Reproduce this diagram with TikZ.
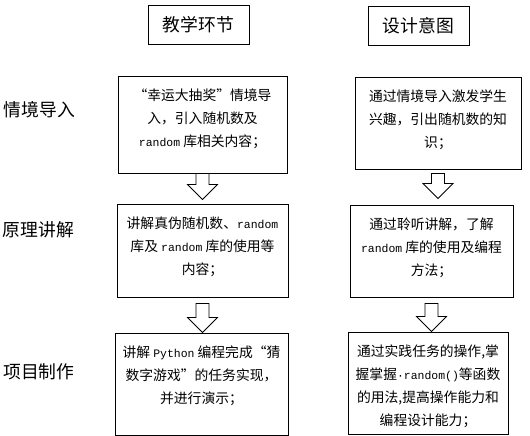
\documentclass[tikz,border=0pt]{standalone}
\usepackage{fontspec}
\setmainfont{Noto Sans CJK SC}
\setmonofont{Liberation Mono}[Scale=0.83]
\usetikzlibrary{positioning, calc}
\tikzset{
  headbox/.style={draw, line width=0.9pt, minimum width=101pt, minimum height=39pt,
    font=\fontsize{17.8}{20}\selectfont},
  rowlabel/.style={inner sep=0pt, font=\fontsize{17.8}{20}\selectfont},
  stepbox/.style={draw, line width=0.9pt},
  boxtext/.style={anchor=north, align=center, inner sep=0pt,
    font=\fontsize{13.8}{23}\selectfont},
  hollow/.style={draw, line width=0.8pt, fill=white, line join=miter},
}
% hollow block arrow: top node, bottom node, gap under top, gap over bottom
\newcommand{\hollowdown}[4]{%
  \draw[hollow] ($(#1.south)+(-6.5,#3)$) -- ++(13,0)
    -- ($(#1.south |- #2.north)+(6.5,-15-#4)$) -- ++(8.5,0)
    -- ($(#1.south |- #2.north)+(0,-#4)$) -- ++(-15,-15)
    -- ++(8.5,0) -- cycle;}
\begin{document}
\begin{tikzpicture}[x=1pt, y=-1pt]
  \useasboundingbox (0,0) rectangle (530,436);

  % === Column headers ===
  \node[headbox] (teach) at (198.5,24.5) {教学环节};
  \node[headbox] (design) at (418.5,25.5) {设计意图};

  % === Row labels ===
  \node[rowlabel] (row1) at (39.5,110) {情境导入};
  \node[rowlabel] (row2) at (38.5,230) {原理讲解};
  \node[rowlabel] (row3) at (39,372) {项目制作};

  % === Teaching steps ===
  \node[stepbox, minimum width=169, minimum height=97] (t1) at (202.5,124.5) {};
  \node[stepbox, minimum width=171, minimum height=93] (t2) at (202.5,250.5) {};
  \node[stepbox, minimum width=173, minimum height=102] (t3) at (201.5,384) {};

  % === Design intentions ===
  \node[stepbox, minimum width=166, minimum height=92] (d1) at (438,123) {};
  \node[stepbox, minimum width=163, minimum height=92] (d2) at (431.5,251) {};
  \node[stepbox, minimum width=160, minimum height=102] (d3) at (428,383) {};

  % === Box texts ===
  \node[boxtext] (t1text) at ($(t1.north)+(0,13)$)
    {“幸运大抽奖”情境导\\入，引入随机数及\\\texttt{random} 库相关内容；};
  \node[boxtext] (t2text) at ($(t2.north)+(0,13)$)
    {讲解真伪随机数、\texttt{random}\\库及 \texttt{random} 库的使用等\\内容；};
  \node[boxtext] (t3text) at ($(t3.north)+(0,13)$)
    {讲解 \texttt{Python} 编程完成“猜\\数字游戏”的任务实现，\\并进行演示；};
  \node[boxtext] (d1text) at ($(d1.north)+(0,13)$)
    {通过情境导入激发学生\\兴趣，引出随机数的知\\识；};
  \node[boxtext] (d2text) at ($(d2.north)+(0,13)$)
    {通过聆听讲解，了解\\\texttt{random} 库的使用及编程\\方法；};
  \node[boxtext] (d3text) at ($(d3.north)+(0,13)$)
    {通过实践任务的操作,掌\\握掌握\texttt{·random()}等函数\\的用法,提高操作能力和\\编程设计能力；};

  % === Hollow arrows ===
  \hollowdown{t1}{t2}{0}{4}
  \hollowdown{d1}{d2}{4}{6}
  \hollowdown{t2}{t3}{6}{0}
  \hollowdown{d2}{d3}{6}{0}

\end{tikzpicture}
\end{document}
